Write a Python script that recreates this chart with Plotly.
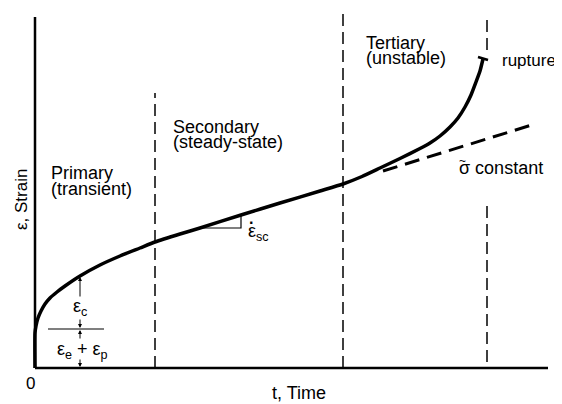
import plotly.graph_objects as go

# Creep curve (time, strain) in arbitrary schematic units
time = [0, 0, 1, 3, 6, 10, 15, 22, 30, 45, 65, 85, 105, 120, 145, 165, 206, 245,
        285, 308, 327, 345, 365, 385, 395, 405, 415, 423, 430, 436, 441, 445, 448]
strain = [0, 35, 42, 50, 57, 64, 70, 76, 82, 92, 103, 112, 120, 126, 134, 140, 153, 165,
          177, 184, 191.5, 200, 209.5, 219.5, 225, 232, 241, 250, 261, 273, 286, 297, 309]

# constant true-stress extrapolation
const_time = [348, 500]
const_strain = [197, 244]

# stage boundaries (time) and their extents (strain)
bound1_time, bound1_strain = [120, 120], [0, 275]
bound2_time, bound2_strain = [308, 308], [0, 356]
bound3_time = [452, 452]
bound3_strain_top = [318, 353]
bound3_strain_bot = [6, 163]

# axes extents
t_max = 513
eps_max = 351

# slope triangle
tri_time = [165, 206, 206]
tri_strain = [140, 140, 153]

# instantaneous strain marker
inst_time = [13, 69]
inst_strain = [39, 39]
arrow_t = 45

# rupture cap
cap_time = [443, 453]
cap_strain = [311, 308]

BLACK = "black"
FONT = "Liberation Sans, Arial, sans-serif"
FS = 18

fig = go.Figure()

def line(x, y, width=1.5, dash=None):
    fig.add_trace(go.Scatter(x=x, y=y, mode="lines",
                             line=dict(color=BLACK, width=width, dash=dash),
                             hoverinfo="skip", showlegend=False))

# axes
line([0, 0], [0, eps_max], width=2.5)
line([0, t_max], [0, 0], width=2.5)

# boundaries
vd = "12px,6px"
line(bound1_time, bound1_strain, 1.5, vd)
line(bound2_time, bound2_strain, 1.5, vd)
line(bound3_time, bound3_strain_top, 1.5, vd)
line(bound3_time, bound3_strain_bot, 1.5, vd)

# constant stress dashed
line(const_time, const_strain, 3, "15px,8px")

# main curve
fig.add_trace(go.Scatter(x=time, y=strain, mode="lines",
                         line=dict(color=BLACK, width=3.5, shape="spline", smoothing=0.5),
                         hoverinfo="skip", showlegend=False))

# triangle, marker lines, cap
line(tri_time, tri_strain, 1.2)
line(inst_time, inst_strain, 1.2)
line(cap_time, cap_strain, 2.5)

ann = []
def text(x, y, s, size=FS, xanchor="left"):
    ann.append(dict(x=x, y=y, text=s, showarrow=False, xanchor=xanchor, yanchor="middle",
                    font=dict(family=FONT, size=size, color=BLACK)))

def arrow(x0, y0, x1, y1):
    ann.append(dict(x=x1, y=y1, ax=x0, ay=y0, xref="x", yref="y", axref="x", ayref="y",
                    text="", showarrow=True, arrowhead=2, arrowsize=0.8, arrowwidth=1,
                    arrowcolor=BLACK))

text(14, 195, "Primary")
text(14, 179, "(transient)")
text(136, 241, "Secondary")
text(136, 226, "(steady-state)")
text(329, 325, "Tertiary")
text(329, 310, "(unstable)")
text(465, 308, "rupture", size=17)
text(422, 200, "σ constant")
text(427, 207, "~", size=12, xanchor="center")
text(211, 136, "ε<sub>sc</sub>")
text(216, 146, "<b>·</b>", size=16, xanchor="center")
text(arrow_t, 61, "ε<sub>c</sub>", xanchor="center")
text(arrow_t + 2, 18, "ε<sub>e</sub> + ε<sub>p</sub>", xanchor="center")
text(-5, -15, "0", size=17, xanchor="center")
text(264, -25, "t, Time", xanchor="center")
ann.append(dict(x=-14, y=168, text="ε, Strain", showarrow=False, textangle=-90,
                xanchor="center", yanchor="middle",
                font=dict(family=FONT, size=17, color=BLACK)))

arrow(arrow_t, 70, arrow_t, 91)
arrow(arrow_t, 50, arrow_t, 40)
arrow(arrow_t, 28, arrow_t, 38)
arrow(arrow_t, 10, arrow_t, 1)

fig.update_layout(
    width=562, height=404,
    margin=dict(l=0, r=0, t=0, b=0),
    paper_bgcolor="white", plot_bgcolor="white",
    annotations=ann,
    xaxis=dict(range=[-27, 535], visible=False, fixedrange=True),
    yaxis=dict(range=[-44, 360], visible=False, fixedrange=True),
)

fig.write_html("out.html")
